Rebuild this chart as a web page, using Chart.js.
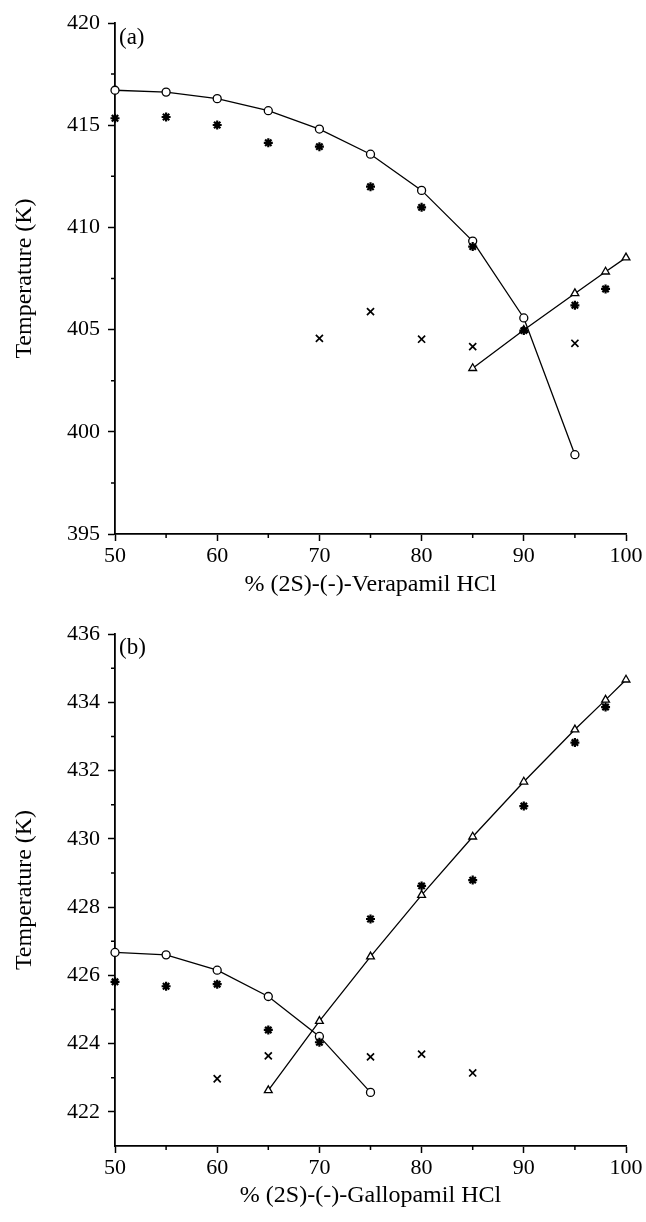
<!DOCTYPE html>
<html><head><meta charset="utf-8">
<script src="https://cdn.jsdelivr.net/npm/chart.js@4.4.1/dist/chart.umd.min.js"></script>
<style>
html,body{margin:0;padding:0;background:#fff;}
#wrapA{position:absolute;left:0;top:0;width:646px;height:600px;}
#wrapB{position:absolute;left:0;top:600px;width:646px;height:622px;}
</style></head><body>
<div id="wrapA"><canvas id="cA" width="646" height="600"></canvas></div>
<div id="wrapB"><canvas id="cB" width="646" height="622"></canvas></div>
<script>
// ---- Panel (a): Verapamil HCl ----
const aCircleX = [50,55,60,65,70,75,80,85,90,95];
const aCircleY = [416.71,416.62,416.30,415.71,414.81,413.58,411.81,409.33,405.57,398.88];
const aStarX = [50,55,60,65,70,75,80,85,90,95,98];
const aStarY = [415.34,415.40,415.01,414.14,413.95,411.99,410.98,409.06,404.95,406.19,406.99];
const aTriX = [85,90,95,98,100];
const aTriY = [403.11,404.98,406.77,407.83,408.52];
const aCrossX = [70,75,80,85,95];
const aCrossY = [404.57,405.88,404.53,404.17,404.33];
const aYTicks = [395,400,405,410,415,420];
const aYMinor = [397.5,402.5,407.5,412.5,417.5];

// ---- Panel (b): Gallopamil HCl ----
const bCircleX = [50,55,60,65,70,75];
const bCircleY = [426.67,426.60,426.15,425.38,424.21,422.57];
const bStarX = [50,55,60,65,70,75,80,85,90,95,98];
const bStarY = [425.81,425.68,425.74,424.40,424.04,427.65,428.62,428.79,430.96,432.82,433.86];
const bTriX = [65,70,75,80,85,90,95,98,100];
const bTriY = [422.63,424.66,426.55,428.35,430.06,431.67,433.20,434.07,434.66];
const bCrossX = [60,65,75,80,85];
const bCrossY = [422.97,423.64,423.61,423.69,423.14];
const bYTicks = [422,424,426,428,430,432,434,436];
const bYMinor = [423,425,427,429,431,433,435];

const xTicks = [50,60,70,80,90,100];
const xMinor = [55,65,75,85,95];

const FONT = "'Liberation Serif', 'DejaVu Serif', serif";

function pts(xs, ys){ return xs.map((x,i)=>({x:x,y:ys[i]})); }

function makeChart(id, cfg){
  const minorPlugin = {
    id:'minor'+id,
    afterDraw(chart){
      const ctx = chart.ctx;
      const xs = chart.scales.x, ys = chart.scales.y;
      ctx.save();
      ctx.strokeStyle = '#000';
      ctx.lineWidth = 1.5;
      ctx.beginPath();
      cfg.yMinor.forEach(v=>{
        const p = ys.getPixelForValue(v);
        ctx.moveTo(ys.right - 4, p); ctx.lineTo(ys.right, p);
      });
      xMinor.forEach(v=>{
        const p = xs.getPixelForValue(v);
        ctx.moveTo(p, xs.top); ctx.lineTo(p, xs.top + 4);
      });
      ctx.stroke();
      ctx.fillStyle = '#000';
      ctx.font = "23px " + FONT;
      ctx.textBaseline = 'alphabetic';
      ctx.textAlign = 'left';
      ctx.fillText(cfg.panel, chart.chartArea.left + 4, chart.chartArea.top + cfg.panelDy);
      ctx.restore();
    }
  };
  return new Chart(document.getElementById(id), {
    type:'scatter',
    data:{datasets:[
      {data:pts(cfg.crossX,cfg.crossY), pointStyle:'crossRot', pointRadius:5, borderColor:'#000', borderWidth:1.7, showLine:false, clip:false},
      {data:pts(cfg.starX,cfg.starY), pointStyle:'star', pointRadius:4.5, borderColor:'#000', borderWidth:2.2, showLine:false, clip:false},
      {data:pts(cfg.triX,cfg.triY), pointStyle:'triangle', pointRadius:4.5, borderColor:'#000', backgroundColor:'#fff', borderWidth:1.3, showLine:true, clip:false},
      {data:pts(cfg.circX,cfg.circY), pointStyle:'circle', pointRadius:4, borderColor:'#000', backgroundColor:'#fff', borderWidth:1.3, showLine:true, clip:false}
    ]},
    options:{
      responsive:false, animation:false, events:[],
      layout:{padding:{left:0,right:20,top:cfg.top,bottom:0}},
      plugins:{legend:{display:false}, tooltip:{enabled:false}},
      scales:{
        x:{type:'linear', min:50, max:100,
          afterBuildTicks(s){ s.ticks = xTicks.map(v=>({value:v})); },
          afterFit(s){ s.height = cfg.xH; },
          grid:{drawOnChartArea:false, drawTicks:true, tickLength:7, tickColor:'#000', tickWidth:1.5},
          border:{display:true, color:'#000', width:1.8},
          ticks:{color:'#000', font:{family:FONT, size:22}, padding:2, maxRotation:0},
          title:{display:true, text:cfg.xTitle, color:'#000', font:{family:FONT, size:24}, padding:{top:4,bottom:cfg.xTitlePad}}
        },
        y:{type:'linear', min:cfg.yMin, max:cfg.yMax,
          afterBuildTicks(s){ s.ticks = cfg.yTicks.map(v=>({value:v})); },
          afterFit(s){ s.width = 115; },
          grid:{drawOnChartArea:false, drawTicks:true, tickLength:7, tickColor:'#000', tickWidth:1.5},
          border:{display:true, color:'#000', width:1.8},
          ticks:{color:'#000', font:{family:FONT, size:22}, padding:8},
          title:{display:true, text:'Temperature (K)', color:'#000', font:{family:FONT, size:24}, padding:{top:10.5,bottom:0}}
        }
      }
    },
    plugins:[minorPlugin]
  });
}

makeChart('cA', {panel:'(a)', panelDy:21, top:23, xH:66, xTitlePad:0.5, yMin:395, yMax:420, yTicks:aYTicks, yMinor:aYMinor,
  xTitle:'% (2S)-(-)-Verapamil HCl',
  circX:aCircleX, circY:aCircleY, starX:aStarX, starY:aStarY, triX:aTriX, triY:aTriY, crossX:aCrossX, crossY:aCrossY});
makeChart('cB', {panel:'(b)', panelDy:20, top:34, xH:76, xTitlePad:11.5, yMin:421, yMax:436, yTicks:bYTicks, yMinor:bYMinor,
  xTitle:'% (2S)-(-)-Gallopamil HCl',
  circX:bCircleX, circY:bCircleY, starX:bStarX, starY:bStarY, triX:bTriX, triY:bTriY, crossX:bCrossX, crossY:bCrossY});
</script>
</body></html>
